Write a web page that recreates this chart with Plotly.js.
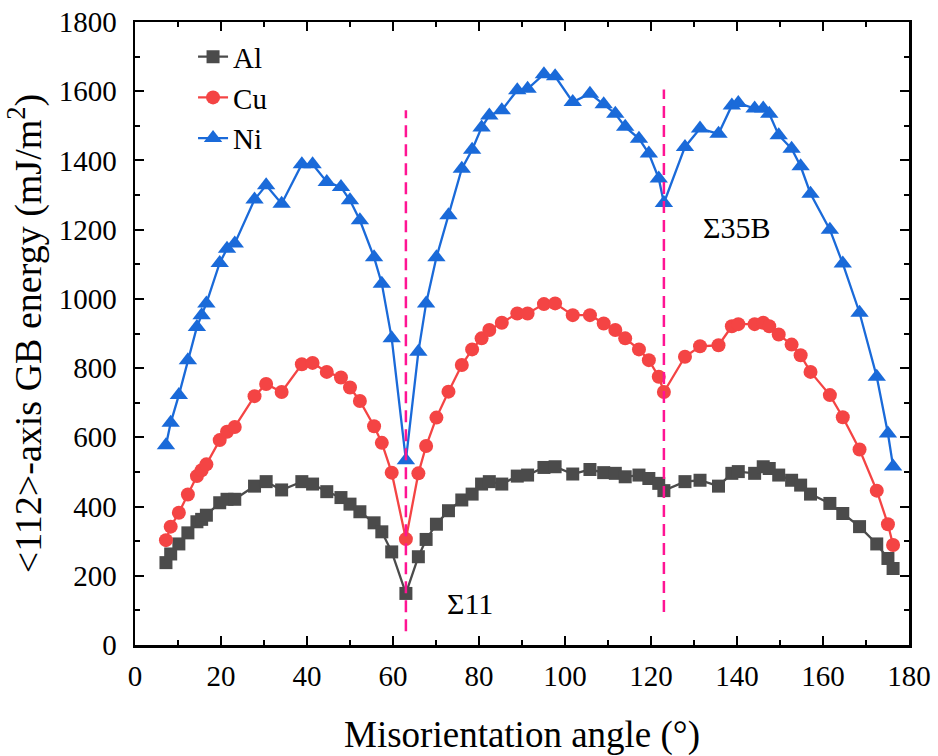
<!DOCTYPE html>
<html>
<head>
<meta charset="utf-8">
<script src="https://cdn.plot.ly/plotly-3.0.1.min.js"></script>
<style>html,body{margin:0;padding:0;background:#fff}#chart{width:938px;height:756px}</style>
</head>
<body>
<div id="chart"></div>
<script>
const angles = [7.2, 8.3, 10.2, 12.3, 14.4, 15.5, 16.6, 19.7, 21.4, 23.2,
  27.8, 30.5, 34.1, 38.8, 41.3, 44.6, 47.9, 50.0, 52.3, 55.6,
  57.4, 59.7, 63.0, 65.9, 67.7, 70.1, 72.9, 76.0, 78.4, 80.6,
  82.4, 85.3, 88.9, 91.3, 95.1, 97.7, 101.8, 105.8, 109.0, 111.7,
  114.0, 117.2, 119.5, 121.8, 123.0, 127.9, 131.4, 135.7, 138.8, 140.3,
  144.1, 146.1, 147.5, 149.7, 152.7, 154.8, 157.1, 161.6, 164.6, 168.5,
  172.5, 175.1, 176.3];
const alEnergy = [238, 263, 292, 324, 356, 363, 375, 411, 421, 421,
  459, 472, 448, 472, 465, 443, 426, 407, 385, 353,
  327, 269, 149, 255, 305, 349, 388, 419, 436, 465,
  472, 465, 488, 491, 513, 515, 494, 507, 498, 496,
  486, 491, 481, 467, 446, 472, 476, 459, 496, 501,
  496, 515, 510, 491, 476, 462, 436, 409, 380, 342,
  292, 250, 221];
const cuEnergy = [303, 342, 382, 435, 488, 505, 522, 592, 616, 630,
  719, 754, 731, 811, 815, 789, 773, 744, 705, 632,
  584, 498, 306, 496, 575, 657, 732, 809, 854, 886,
  910, 931, 958, 958, 985, 987, 953, 953, 929, 910,
  886, 854, 823, 775, 731, 833, 863, 866, 921, 927,
  927, 931, 921, 897, 868, 837, 789, 722, 658, 565,
  446, 349, 289];
const niEnergy = [577, 642, 722, 823, 919, 953, 987, 1104, 1145, 1160,
  1287, 1328, 1275, 1389, 1389, 1338, 1323, 1285, 1227, 1120,
  1044, 886, 534, 847, 987, 1120, 1242, 1376, 1431, 1495,
  1530, 1545, 1603, 1607, 1649, 1643, 1569, 1593, 1562, 1535,
  1497, 1463, 1420, 1348, 1277, 1439, 1492, 1477, 1559, 1566,
  1550, 1550, 1535, 1473, 1434, 1383, 1304, 1200, 1102, 960,
  775, 611, 516];
const seriesNames = ["Al", "Cu", "Ni"];
// special boundaries (dashed markers)
const sigmaAngles = [63, 123];
const sigmaLow = [40, 95];
const sigmaHigh = [1545, 1605];
const sigmaLabels = ["\u03A311", "\u03A335B"];
const sigmaLabelX = [77.9, 139.8];
const sigmaLabelY = [121, 1207];

const font = "Liberation Serif";
const colors = {Al: "#4b4b4b", Cu: "#f44444", Ni: "#1a6ad9"};
function series(name, y, symbol, size) {
  return {x: angles, y: y, name: name, type: "scatter", mode: "lines+markers",
    line: {color: colors[name], width: 2.3},
    marker: {symbol: symbol, size: size, color: colors[name]}};
}
const traces = [
  series(seriesNames[0], alEnergy, "square", 13),
  series(seriesNames[1], cuEnergy, "circle", 14),
  series(seriesNames[2], niEnergy, "triangle-up", 16)
];
sigmaAngles.forEach((a, i) => {
  traces.push({x: [a, a], y: [sigmaLow[i], sigmaHigh[i]], type: "scatter", mode: "lines",
    line: {color: "#ff1493", width: 2.5, dash: "12px,7px"}, showlegend: false, hoverinfo: "skip"});
});
const annotations = sigmaLabels.map((t, i) => ({x: sigmaLabelX[i], y: sigmaLabelY[i], text: t,
  showarrow: false, font: {family: font, size: 30, color: "#000"}}));

const layout = {
  width: 938, height: 756,
  margin: {l: 135, r: 28.5, t: 21.7, b: 111},
  paper_bgcolor: "#fff", plot_bgcolor: "#fff",
  font: {family: font, color: "#000"},
  showlegend: true,
  legend: {x: 0.075, y: 0.985, xanchor: "left", yanchor: "top", bgcolor: "rgba(0,0,0,0)",
    font: {family: font, size: 29}},
  xaxis: {range: [0, 180], dtick: 20, tick0: 0, showgrid: false, zeroline: false,
    showline: true, linecolor: "#000", linewidth: 2.5, mirror: "ticks",
    ticks: "inside", ticklen: 9, tickwidth: 2, tickcolor: "#000", ticklabelstandoff: 4,
    minor: {dtick: 10, ticks: "inside", ticklen: 5, tickwidth: 2, tickcolor: "#000"},
    tickfont: {family: font, size: 29},
    title: {text: "Misorientation angle (\u00B0)", font: {family: font, size: 37}, standoff: 30}},
  yaxis: {range: [0, 1800], dtick: 200, tick0: 0, showgrid: false, zeroline: false,
    showline: true, linecolor: "#000", linewidth: 2.5, mirror: "ticks",
    ticks: "inside", ticklen: 9, tickwidth: 2, tickcolor: "#000", ticklabelstandoff: 10,
    minor: {dtick: 100, ticks: "inside", ticklen: 5, tickwidth: 2, tickcolor: "#000"},
    tickfont: {family: font, size: 29},
    title: {text: "<112>-axis GB energy (mJ/m<sup>2</sup>)", font: {family: font, size: 38}, standoff: 6}},
  annotations: annotations
};
Plotly.newPlot("chart", traces, layout, {displayModeBar: false, staticPlot: true});
</script>
</body>
</html>
